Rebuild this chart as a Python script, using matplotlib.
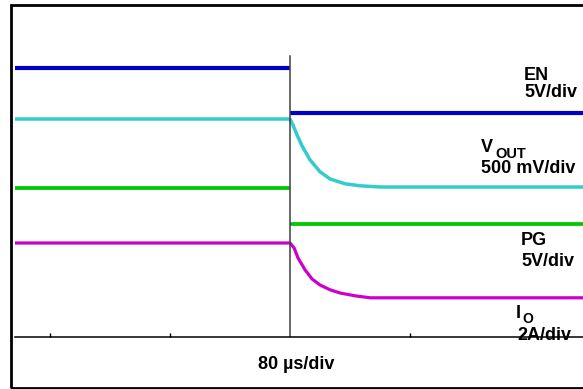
import matplotlib
matplotlib.use('Agg')
import matplotlib.pyplot as plt
from matplotlib.patches import Rectangle

plt.rcParams['font.family'] = ['Liberation Sans', 'DejaVu Sans']

# time in us (0 = EN falling edge), levels in screen divisions
t_en_pre = [-183, 0]
en_pre = [6.72, 6.72]
t_en_post = [0, 195]
en_post = [5.6, 5.6]

t_vout = [-183, 0, 2, 4.7, 8, 13.3, 20, 26.7, 36.7, 46.7, 60, 195]
vout = [5.45, 5.45, 5.3, 5.05, 4.78, 4.43, 4.13, 3.95, 3.83, 3.78, 3.75, 3.75]

t_pg_pre = [-183, 0]
pg_pre = [3.72, 3.72]
t_pg_post = [0, 195]
pg_post = [2.83, 2.83]

t_io = [-183, 0, 2.7, 5.3, 10, 14.7, 20, 26.7, 33.3, 43.3, 53.3, 195]
io = [2.35, 2.35, 2.23, 1.98, 1.68, 1.45, 1.3, 1.18, 1.1, 1.03, 0.98, 0.98]

tick_t = [-160, -80, 80]

W, H = 583, 389
fig = plt.figure(figsize=(W / 100, H / 100), dpi=100)
ax = fig.add_axes([15 / W, (H - 337) / H, (583 - 15) / W, (337 - 5) / H])
ax.set_xlim(-183, 195)
ax.set_ylim(0, 8.3)

ax.plot(t_en_pre, en_pre, color='#0000c8', lw=3.0, solid_capstyle='butt')
ax.plot(t_en_post, en_post, color='#0000c8', lw=3.0, solid_capstyle='butt')
ax.plot(t_vout, vout, color='#33cccc', lw=2.5, solid_capstyle='butt')
ax.plot(t_pg_pre, pg_pre, color='#00c800', lw=2.7, solid_capstyle='butt')
ax.plot(t_pg_post, pg_post, color='#00c800', lw=2.7, solid_capstyle='butt')
ax.plot(t_io, io, color='#cc00cc', lw=2.3, solid_capstyle='butt')
ax.plot([0, 0], [0, 7.02], color='#404040', lw=1.1)

for s in ['top', 'right', 'left']:
    ax.spines[s].set_visible(False)
ax.spines['bottom'].set_linewidth(1.1)
ax.set_yticks([])
ax.set_xticks(tick_t)
ax.set_xticklabels([])
ax.tick_params(axis='x', direction='in', length=3, width=1)

def label(x, y, s, size=13):
    # drawn in the axes (below the spine) so the baseline line crosses it
    ax.text(x / W, 1 - y / H, s, fontsize=size, fontweight='bold',
            va='top', ha='left', transform=fig.transFigure,
            clip_on=False, zorder=1)

label(524, 67, 'EN')
label(524, 84, '5V/div')
label(481, 139, 'V')
label(495, 147, 'OUT', size=10.5)
label(481, 160, '500 mV/div')
label(521, 232, 'PG')
label(521, 253, '5V/div')
label(516, 305, 'I')
label(522, 312, 'O', size=10)
label(517, 327, '2A/div')
fig.text(296 / W, 1 - 356 / H, '80 µs/div', fontsize=13, fontweight='bold',
         va='top', ha='center')

fig.patches.append(Rectangle((11 / W, 1 - 388 / H), 1, (388 - 5) / H,
                             transform=fig.transFigure, fill=False,
                             edgecolor='black', lw=2.0, zorder=0))

fig.savefig('out.png', dpi=100)
